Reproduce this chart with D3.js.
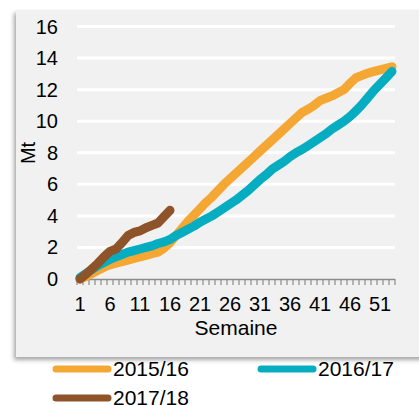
<!DOCTYPE html>
<html>
<head>
<meta charset="utf-8">
<script src="https://cdn.jsdelivr.net/npm/d3@7"></script>
<style>
  body { margin: 0; background: #fff; }
  svg { display: block; font-family: "Liberation Sans", Arial, sans-serif; }
</style>
</head>
<body>
<svg width="419" height="405"></svg>
<script>
// semaines 1..53
const weeks = d3.range(1, 54);
const tickWeeks = [1, 6, 11, 16, 21, 26, 31, 36, 41, 46, 51];
const yTicks = [0, 2, 4, 6, 8, 10, 12, 14, 16];

const s2015 = [0, 0.15, 0.35, 0.55, 0.75, 0.9, 1.0, 1.1, 1.2, 1.3,
  1.4, 1.5, 1.6, 1.7, 1.95, 2.3, 2.75, 3.2, 3.65, 4.05,
  4.45, 4.85, 5.2, 5.6, 6.0, 6.35, 6.7, 7.05, 7.4, 7.75,
  8.1, 8.45, 8.8, 9.15, 9.5, 9.85, 10.2, 10.55, 10.75, 11.0,
  11.3, 11.45, 11.6, 11.8, 12.0, 12.4, 12.75, 12.9, 13.05, 13.15,
  13.25, 13.35, 13.45];
const s2016 = [0.1, 0.35, 0.6, 0.85, 1.05, 1.25, 1.4, 1.55, 1.7, 1.8,
  1.9, 2.0, 2.1, 2.25, 2.35, 2.5, 2.75, 2.95, 3.15, 3.35,
  3.6, 3.8, 4.0, 4.25, 4.5, 4.75, 5.0, 5.3, 5.6, 5.95,
  6.3, 6.6, 6.95, 7.2, 7.45, 7.75, 8.0, 8.2, 8.45, 8.7,
  8.95, 9.2, 9.5, 9.75, 10.0, 10.3, 10.65, 11.05, 11.5, 11.95,
  12.35, 12.75, 13.15];
const s2017 = [0, 0.3, 0.65, 1.0, 1.4, 1.75, 1.9, 2.3, 2.75, 2.95,
  3.05, 3.25, 3.4, 3.55, 3.95, 4.35];

const series = [
  { name: "2015/16", color: "#f5a733", values: s2015 },
  { name: "2016/17", color: "#06adc1", values: s2016 },
  { name: "2017/18", color: "#8e5329", values: s2017 }
];

const svg = d3.select("svg");

// ombre du cadre
const defs = svg.append("defs");
defs.append("filter").attr("id", "shadow")
  .attr("x", "-10%").attr("y", "-10%").attr("width", "120%").attr("height", "120%")
  .append("feDropShadow")
  .attr("dx", -2).attr("dy", 3).attr("stdDeviation", 2)
  .attr("flood-color", "#000").attr("flood-opacity", 0.35);

svg.append("rect")
  .attr("x", 16).attr("y", 10)
  .attr("width", 420).attr("height", 347)
  .attr("fill", "#f1f1f1")
  .attr("filter", "url(#shadow)");

const x = d3.scaleBand().domain(weeks).range([77, 395]);
const xc = w => x(w) + x.bandwidth() / 2;
const y = d3.scaleLinear().domain([0, 16]).range([279, 26.5]);

// grille
svg.append("g")
  .selectAll("line")
  .data(yTicks.filter(d => d > 0))
  .join("line")
  .attr("x1", 77).attr("x2", 395)
  .attr("y1", d => y(d)).attr("y2", d => y(d))
  .attr("stroke", "#fff").attr("stroke-width", 3);

// axe y
svg.append("g")
  .selectAll("text")
  .data(yTicks)
  .join("text")
  .attr("x", 58).attr("y", d => y(d))
  .attr("dy", "0.35em")
  .attr("text-anchor", "end")
  .attr("font-size", 20)
  .attr("fill", "#000")
  .text(d => d);

svg.append("text")
  .attr("transform", "translate(35,153) rotate(-90)")
  .attr("text-anchor", "middle")
  .attr("font-size", 20)
  .text("Mt");

// axe x
const xAxis = svg.append("g");
xAxis.append("line")
  .attr("x1", 77).attr("x2", 395)
  .attr("y1", 279.5).attr("y2", 279.5)
  .attr("stroke", "#8c8c8c").attr("stroke-width", 1.5);
xAxis.selectAll("line.tick")
  .data(weeks.concat([54]))
  .join("line")
  .attr("class", "tick")
  .attr("x1", d => d === 54 ? 395 : x(d)).attr("x2", d => d === 54 ? 395 : x(d))
  .attr("y1", 279).attr("y2", 285)
  .attr("stroke", "#8c8c8c").attr("stroke-width", 1.2);
xAxis.selectAll("text")
  .data(tickWeeks)
  .join("text")
  .attr("x", d => xc(d)).attr("y", 311)
  .attr("text-anchor", "middle")
  .attr("font-size", 20)
  .text(d => d);

svg.append("text")
  .attr("x", 236).attr("y", 335)
  .attr("text-anchor", "middle")
  .attr("font-size", 21)
  .text("Semaine");

// courbes
const line = d3.line()
  .x((d, i) => xc(weeks[i]))
  .y(d => y(d))
  .curve(d3.curveLinear);

svg.append("g")
  .selectAll("path")
  .data(series)
  .join("path")
  .attr("d", d => line(d.values))
  .attr("fill", "none")
  .attr("stroke", d => d.color)
  .attr("stroke-width", 9)
  .attr("stroke-linecap", "round")
  .attr("stroke-linejoin", "round");

// légende
const legendPos = [
  { x: 53, y: 369 },
  { x: 258, y: 369 },
  { x: 53, y: 398 }
];
const legend = svg.append("g")
  .selectAll("g")
  .data(series)
  .join("g")
  .attr("transform", (d, i) => `translate(${legendPos[i].x},${legendPos[i].y})`);
legend.append("line")
  .attr("x1", 3).attr("x2", 55)
  .attr("stroke", d => d.color)
  .attr("stroke-width", 7)
  .attr("stroke-linecap", "round");
legend.append("text")
  .attr("x", 60).attr("dy", "0.35em")
  .attr("font-size", 21)
  .text(d => d.name);
</script>
</body>
</html>
